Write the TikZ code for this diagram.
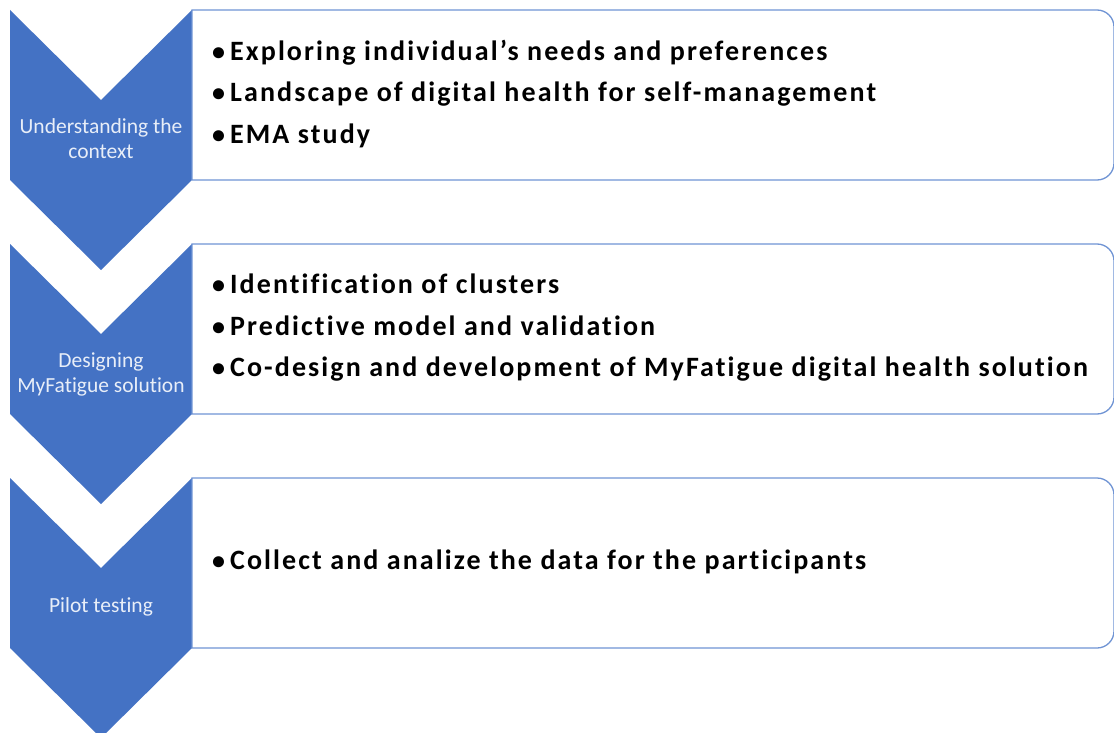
\documentclass[tikz,border=0pt]{standalone}
\usepackage{fontspec}
\setmainfont{Carlito}[Ligatures={NoCommon}]
\newfontfamily\itemfont{Carlito}[LetterSpace=7.5,Ligatures={NoCommon}]
\definecolor{chevblue}{HTML}{4472C4}
\definecolor{boxline}{HTML}{7094D4}
\definecolor{labeltext}{HTML}{E8EEF8}
\begin{document}
\begin{tikzpicture}[x=1pt,y=-1pt,
  chevron/.style={fill=chevblue,draw=none},
  stepbox/.style={draw=boxline,line width=1.3pt,fill=white},
  steplabel/.style={text=labeltext,font=\fontsize{21.5}{25}\selectfont,align=center,inner sep=0pt},
  items/.style={font=\itemfont\bfseries\fontsize{28}{41.5}\selectfont,align=left,anchor=west,inner sep=0pt}]
\useasboundingbox (0,0) rectangle (1114,733);
\fill[white] (0,0) rectangle (1114,733);
\clip (0,0) rectangle (1114,733);
% chevrons
\foreach \t in {10,244,478}{
  \path[chevron] (10,\t) -- (101,\t+90) -- (192,\t) -- (192,\t+170) -- (101,\t+260) -- (10,\t+170) -- cycle;
  \draw[stepbox] (192,\t) -- (1097,\t) arc[start angle=-90,end angle=0,radius=17] -- (1114,\t+153) arc[start angle=0,end angle=90,radius=17] -- (192,\t+170) -- cycle;
}
% chevron labels
\node[steplabel] (c1) at (101,139) {Understanding the\\context};
\node[steplabel] (c2) at (101,374) {Designing\\MyFatigue solution};
\node[steplabel] (c3) at (101,607) {Pilot testing};
% items
\newcommand{\itembul}{{\fontsize{26}{26}\selectfont\textbullet}\hspace{5pt}}
\node[items] (b1) at (212,94) {\itembul Exploring individual’s needs and preferences\\\itembul Landscape of digital health for self-management\\\itembul EMA study};
\node[items] (b2) at (212,328) {\itembul Identification of clusters\\\itembul Predictive model and validation\\\itembul Co-design and development of MyFatigue digital health solution};
\node[items] (b3) at (212,562) {\itembul Collect and analize the data for the participants};
\end{tikzpicture}
\end{document}
